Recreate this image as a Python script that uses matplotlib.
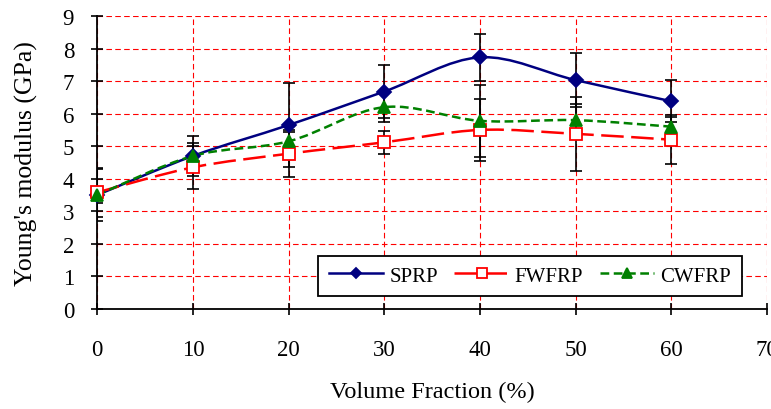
import numpy as np
import matplotlib
matplotlib.use("Agg")
import matplotlib.pyplot as plt
from matplotlib.path import Path
from matplotlib.patches import PathPatch
from matplotlib.lines import Line2D

plt.rcParams['font.family'] = ['Liberation Serif', 'DejaVu Serif']

vf = [0, 10, 20, 30, 40, 50, 60]
sprp = [3.5, 4.7, 5.65, 6.68, 7.73, 7.03, 6.38]
sprp_err = [0.8, 0.6, 1.3, 0.8, 0.72, 0.82, 0.65]
fwfrp = [3.58, 4.35, 4.77, 5.12, 5.5, 5.38, 5.2]
fwfrp_err = [0.75, 0.65, 0.72, 0.35, 0.95, 1.14, 0.75]
cwfrp = [3.5, 4.7, 5.15, 6.2, 5.78, 5.8, 5.6]
cwfrp_err = [0.25, 0.4, 0.3, 0.45, 1.1, 0.5, 0.3]


def smooth_path(x, y):
    # catmull-rom style bezier, like the spreadsheet "smoothed line"
    pts = np.column_stack([x, y]).astype(float)
    verts = [pts[0]]
    codes = [Path.MOVETO]
    n = len(pts)
    for i in range(n - 1):
        p0 = pts[max(i - 1, 0)]
        p1 = pts[i]
        p2 = pts[i + 1]
        p3 = pts[min(i + 2, n - 1)]
        c1 = p1 + (p2 - p0) / 6
        c2 = p2 - (p3 - p1) / 6
        verts += [c1, c2, p2]
        codes += [Path.CURVE4] * 3
    return Path(verts, codes)


fig = plt.figure(figsize=(7.71, 4.10), dpi=100)
ax = fig.add_axes([0.126, 0.244, 0.869, 0.7145])

ax.set_xlim(0, 70)
ax.set_ylim(0, 9)
ax.set_xticks(range(0, 71, 10))
ax.set_yticks(range(0, 10))
ax.grid(True, color='red', linestyle=(0, (5, 3)), linewidth=0.8)
ax.set_axisbelow(True)

for s in ['top', 'right']:
    ax.spines[s].set_visible(False)
for s in ['left', 'bottom']:
    ax.spines[s].set_linewidth(1.3)
    ax.spines[s].set_zorder(5)

series = [
    (sprp, sprp_err, '#000080', 'D', '#000080', '-', 1.8, 7, 'SPRP'),
    (fwfrp, fwfrp_err, '#ff0000', 's', 'white', (0, (9, 3)), 1.8, 9, 'FWFRP'),
    (cwfrp, cwfrp_err, '#008000', '^', '#008000', (0, (3.5, 1.8)), 1.8, 9, 'CWFRP'),
]

for y, err, c, m, fc, ls, lw, ms, name in series:
    ax.errorbar(vf, y, yerr=err, fmt='none', ecolor='black', elinewidth=1.2,
                capsize=4, capthick=1.2, zorder=3)

handles = []
for y, err, c, m, fc, ls, lw, ms, name in series:
    patch = PathPatch(smooth_path(vf, y), facecolor='none', edgecolor=c,
                      linewidth=lw, linestyle=ls, zorder=4)
    ax.add_patch(patch)
    ax.plot(vf, y, linestyle='none', marker=m, markersize=ms, color=c,
            markerfacecolor=fc, markeredgecolor=c, markeredgewidth=1.3,
            zorder=6, clip_on=False)
    handles.append(Line2D([], [], color=c, linestyle=ls, linewidth=lw, marker=m,
                          markersize=ms - 2, markerfacecolor=fc, markeredgecolor=c,
                          markeredgewidth=1.3, label=name))

ax.tick_params(axis='both', direction='inout', length=9, width=1.2,
               labelsize=16.5, colors='black')
ax.tick_params(axis='x', pad=17)
ax.tick_params(axis='y', pad=12)

ax.set_xlabel('Volume Fraction (%)', fontsize=17.5, labelpad=15)
ax.set_ylabel("Young's modulus (GPa)", fontsize=18.5, labelpad=18)

leg = ax.legend(handles=handles, loc='center', bbox_to_anchor=(0.646, 0.113),
                ncol=3, fontsize=15, frameon=True, fancybox=False,
                edgecolor='black', framealpha=1, handlelength=2.6,
                handletextpad=0.3, columnspacing=0.8, borderpad=0.5)
leg.get_frame().set_linewidth(1.3)
leg.set_zorder(7)

fig.savefig('out.png', dpi=100)
